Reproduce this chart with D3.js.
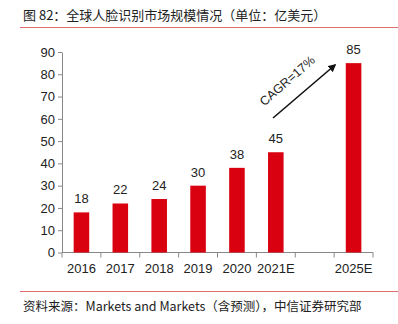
<!DOCTYPE html>
<html>
<head>
<meta charset="utf-8">
<script src="https://cdn.jsdelivr.net/npm/d3@7"></script>
<style>
  body { margin: 0; background: #fff; }
  svg { display: block; font-family: "Liberation Sans", Arial, "Noto Sans CJK SC", sans-serif; }
</style>
</head>
<body>
<svg id="chart"></svg>
<script>
const categories = ['2016', '2017', '2018', '2019', '2020', '2021E', '', '2025E'];
const values = [18, 22, 24, 30, 38, 45, null, 85];
const yTicks = [0, 10, 20, 30, 40, 50, 60, 70, 80, 90];
const titleText = '图 82：全球人脸识别市场规模情况（单位：亿美元）';
const sourceText = '资料来源：Markets and Markets（含预测），中信证券研究部';
const cagrText = 'CAGR=17%';

const width = 398, height = 324;
const margin = { top: 52, right: 25, bottom: 71, left: 62 };
const innerHeight = height - margin.top - margin.bottom;

const svg = d3.select('#chart').attr('width', width).attr('height', height);

// title + rules
svg.append('text')
  .attr('x', 23).attr('y', 20)
  .attr('font-size', 13).attr('fill', '#222')
  .attr('font-family', '"Noto Sans CJK SC", sans-serif')
  .text(titleText);
svg.append('line')
  .attr('x1', 20).attr('x2', 398).attr('y1', 27.5).attr('y2', 27.5)
  .attr('stroke', '#e07070').attr('stroke-width', 1);
svg.append('line')
  .attr('x1', 20).attr('x2', 398).attr('y1', 291.5).attr('y2', 291.5)
  .attr('stroke', '#e07070').attr('stroke-width', 1);
svg.append('text')
  .attr('x', 23).attr('y', 311)
  .attr('font-size', 12.5).attr('fill', '#222')
  .attr('font-family', '"Noto Sans CJK SC", sans-serif')
  .text(sourceText);

const g = svg.append('g').attr('transform', `translate(${margin.left},${margin.top})`);

const x = d3.scaleBand().domain(d3.range(categories.length)).range([0, 311]).paddingInner(0.6).paddingOuter(0.3);
const xOuter = d3.scaleLinear().domain([0, categories.length]).range([0, 311]);
const y = d3.scaleLinear().domain([0, 90]).range([innerHeight - 0.5, 0]);

// y axis
const yAxis = g.append('g')
  .call(d3.axisLeft(y).tickValues(yTicks).tickSize(4).tickSizeOuter(0));
yAxis.select('.domain').attr('stroke', '#888');
yAxis.selectAll('.tick line').attr('stroke', '#888');
yAxis.selectAll('.tick text').attr('font-size', 13).attr('fill', '#222')
  .attr('font-family', '"Liberation Sans", Arial, sans-serif').attr('x', -7);

// x axis
const xAxisG = g.append('g').attr('transform', `translate(0,${y(0)})`);
xAxisG.append('line').attr('x1', 0).attr('x2', 311).attr('stroke', '#888');
xAxisG.selectAll('.xt').data(d3.range(categories.length + 1)).enter()
  .append('line')
  .attr('x1', d => xOuter(d)).attr('x2', d => xOuter(d))
  .attr('y1', 0).attr('y2', 5).attr('stroke', '#888');
xAxisG.selectAll('.xl').data(categories.map((c, i) => ({ c, i })).filter(d => d.c !== '')).enter()
  .append('text')
  .attr('x', d => x(d.i) + x.bandwidth() / 2)
  .attr('y', 20)
  .attr('text-anchor', 'middle')
  .attr('font-size', 13).attr('fill', '#222')
  .text(d => d.c);

// bars
const barData = values.map((v, i) => ({ i, v })).filter(d => d.v !== null);
g.selectAll('.bar').data(barData).enter()
  .append('rect')
  .attr('x', d => x(d.i))
  .attr('width', x.bandwidth())
  .attr('y', d => y(d.v))
  .attr('height', d => y(0) - y(d.v))
  .attr('fill', '#d9000f');

g.selectAll('.val').data(barData).enter()
  .append('text')
  .attr('x', d => x(d.i) + x.bandwidth() / 2)
  .attr('y', d => y(d.v) - 9)
  .attr('text-anchor', 'middle')
  .attr('font-size', 13).attr('fill', '#222')
  .text(d => d.v);

// CAGR arrow
svg.append('defs').append('marker')
  .attr('id', 'arrow').attr('viewBox', '0 0 10 10')
  .attr('refX', 8).attr('refY', 5)
  .attr('markerWidth', 5).attr('markerHeight', 5)
  .attr('orient', 'auto')
  .append('path').attr('d', 'M0,0 L10,5 L0,10 Z').attr('fill', '#111');

svg.append('line')
  .attr('x1', 273).attr('y1', 118)
  .attr('x2', 335).attr('y2', 65)
  .attr('stroke', '#111').attr('stroke-width', 1.6)
  .attr('marker-end', 'url(#arrow)');

svg.append('text')
  .attr('transform', 'translate(290,84) rotate(-41)')
  .attr('text-anchor', 'middle')
  .attr('font-size', 12.5).attr('fill', '#222')
  .text(cagrText);
</script>
</body>
</html>
